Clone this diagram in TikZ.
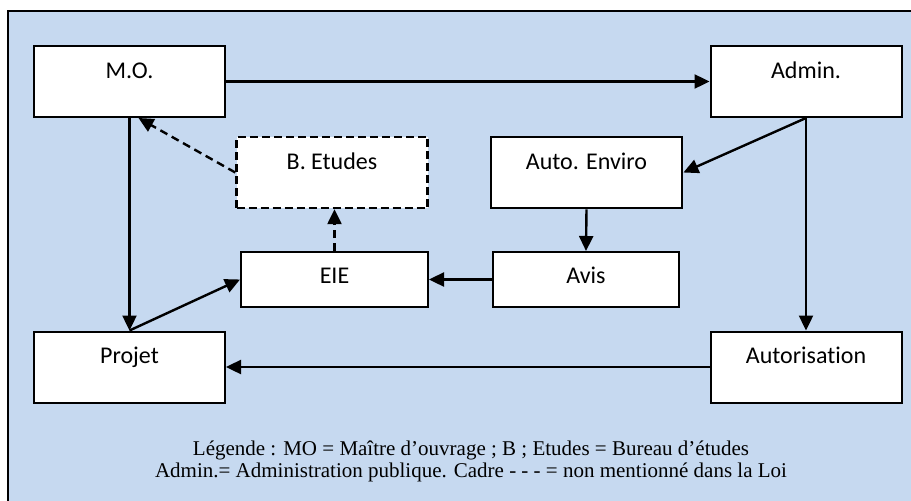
\documentclass[tikz,border=0pt]{standalone}
\usepackage{fontspec}
\setmainfont{Liberation Serif}
\newfontfamily\boxfont[Ligatures=NoCommon]{Carlito}
\usetikzlibrary{arrows.meta}
\definecolor{fondbleu}{RGB}{198,217,240}
\begin{document}
\begin{tikzpicture}[
	x=1pt, y=-1pt,
	block/.style={rectangle, draw, line width=2pt, fill=white, inner sep=0pt,
		minimum width=191pt, font=\boxfont\fontsize{24}{27}\selectfont},
	tall/.style={block, text height=32pt, text depth=39pt},
	flat/.style={block, text height=31pt, text depth=24pt},
	line/.style={line width=2.4pt, -{Triangle[length=15pt, width=14pt]}},
	dashline/.style={line, dash pattern=on 8pt off 5pt}
	]
	% Background
	\useasboundingbox (0,0) rectangle (911,501);
	\fill[fondbleu] (8,11) rectangle (911,501);
	\draw[line width=2pt] (911,11) -- (8,11) -- (8,501);
	
	% Top row
	\node[tall] (MO) at (129.5,81.5) {M.O.};
	\node[tall] (Admin) at (806,81.5) {Admin.};
	
	% Middle row
	\node[tall, dash pattern=on 8pt off 4pt, line width=2.4pt] (BEtudes) at (332,172.5) {B. Etudes};
	\node[tall, line width=2.8pt] (Auto) at (586.5,172.5) {Auto. Enviro};
	\node[flat, minimum width=187pt] (EIE) at (334.5,279.5) {EIE};
	\node[flat, minimum width=186pt] (Avis) at (586,279.5) {Avis};
	
	% Bottom row
	\node[tall] (Projet) at (129.5,367) {Projet};
	\node[tall] (Autorisation) at (806,367) {Autorisation};
	
	% Legend
	\node[anchor=base, align=center, font=\fontsize{21}{22}\selectfont] (legende) at (471,477)
		{Légende : MO = Maître d’ouvrage ; B ; Etudes = Bureau d’études\\
		Admin.= Administration publique. Cadre - - - = non mentionné dans la Loi};
	
	% Connections
	\draw[line] (MO.east) -- (Admin.west);
	\draw[line] (Admin.south) -- (Auto.east);
	\draw[line] (Admin.south) -- (Autorisation.north);
	\draw[line] (Auto.south) -- (Avis.north);
	\draw[line] (Avis.west) -- (EIE.east);
	\draw[line] (MO.south) -- (Projet.north);
	\draw[line] (Projet.north) -- (EIE.west);
	\draw[line] (Autorisation.west) -- (Projet.east);
	\draw[dashline] (EIE.north) -- (EIE.north |- BEtudes.south);
	\draw[dashline] (BEtudes.west) -- ([xshift=9pt]MO.south);
\end{tikzpicture}
\end{document}
